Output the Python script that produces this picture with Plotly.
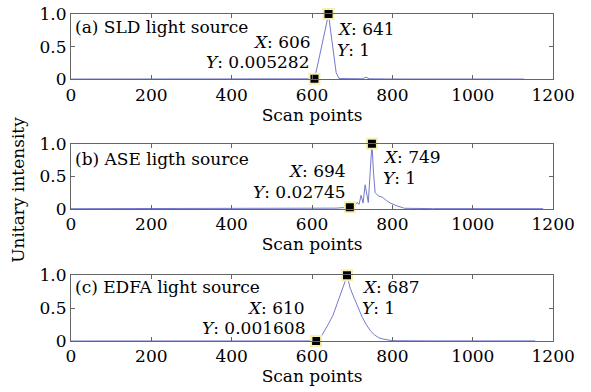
import plotly.graph_objects as go

# ---- data ----
xa = [0, 100, 200, 300, 400, 500, 580, 606, 615, 625, 635, 641, 645, 652, 660, 667, 700, 725, 734, 742, 800, 900, 1000, 1128]
ya = [0.002, 0.002, 0.002, 0.002, 0.002, 0.002, 0.003, 0.005282, 0.25, 0.55, 0.85, 1.0, 0.8, 0.45, 0.1, 0.01, 0.004, 0.006, 0.03, 0.006, 0.003, 0.002, 0.002, 0.002]

xb = [0, 100, 200, 300, 400, 500, 600, 660, 694, 705, 712, 717, 722, 727, 732, 740, 745, 749, 753, 757, 765, 775, 785, 795, 810, 830, 900, 1000, 1100, 1175]
yb = [0.004, 0.004, 0.004, 0.004, 0.005, 0.006, 0.008, 0.012, 0.02745, 0.04, 0.1, 0.07, 0.21, 0.09, 0.37, 0.1, 0.6, 1.0, 0.55, 0.25, 0.2, 0.18, 0.13, 0.09, 0.05, 0.01, 0.005, 0.004, 0.004, 0.004]

xc = [0, 100, 200, 300, 400, 500, 580, 610, 620, 628, 640, 652, 662, 670, 677, 682, 687, 690, 695, 705, 715, 725, 736, 746, 756, 766, 777, 800, 900, 1000, 1100, 1155]
yc = [0.001, 0.001, 0.001, 0.001, 0.001, 0.001, 0.001, 0.001608, 0.04, 0.12, 0.25, 0.39, 0.55, 0.70, 0.8, 0.9, 1.0, 0.92, 0.8, 0.65, 0.5, 0.36, 0.24, 0.15, 0.09, 0.05, 0.03, 0.005, 0.002, 0.002, 0.002, 0.002]

tips_a = [(606, 0.005282), (641, 1)]
tips_b = [(694, 0.02745), (749, 1)]
tips_c = [(610, 0.001608), (687, 1)]

panel_labels = ["(a) SLD light source", "(b) ASE ligth source", "(c) EDFA light source"]
xticks = [0, 200, 400, 600, 800, 1000, 1200]
yticks = [0, 0.5, 1]
yticklabels = ["0", "0.5", "1.0"]

FONT = "DejaVu Serif"
FS = 17
LINE = "#7478cc"
AXC = "#666666"

fig = go.Figure()

series = [(xa, ya, tips_a), (xb, yb, tips_b), (xc, yc, tips_c)]
domains = [[0.798, 0.964], [0.467, 0.633], [0.130, 0.298]]

for i, (x, y, tips) in enumerate(series):
    sfx = "" if i == 0 else str(i + 1)
    fig.add_trace(go.Scatter(x=x, y=y, mode="lines", line=dict(color=LINE, width=1),
                             xaxis="x" + sfx, yaxis="y" + sfx, showlegend=False))
    fig.add_trace(go.Scatter(x=[t[0] for t in tips], y=[t[1] for t in tips], mode="markers",
                             marker=dict(symbol="square", size=10, color="black",
                                         line=dict(color="#f6efb0", width=2)),
                             cliponaxis=False,
                             xaxis="x" + sfx, yaxis="y" + sfx, showlegend=False))
    common = dict(showline=True, linecolor=AXC, linewidth=1, mirror="ticks",
                  ticks="inside", ticklen=4, tickcolor=AXC, showgrid=False, zeroline=False,
                  automargin=False,
                  tickfont=dict(family=FONT, size=FS, color="black"))
    fig.layout["xaxis" + sfx] = dict(domain=[0.120, 0.936], range=[0, 1200], tickvals=xticks,
                                     anchor="y" + sfx,
                                     title=dict(text="Scan points", standoff=2,
                                                font=dict(family=FONT, size=FS, color="black")),
                                     **common)
    fig.layout["yaxis" + sfx] = dict(domain=domains[i], range=[0, 1], tickvals=yticks,
                                     ticktext=yticklabels, anchor="x" + sfx, **common)

def ann(text, x, y, xanchor, xr, yr):
    fig.add_annotation(text=text, x=x, y=y, xref=xr, yref=yr, xanchor=xanchor, yanchor="middle",
                       showarrow=False, font=dict(family=FONT, size=FS, color="black"))

refs = [("x", "y"), ("x2", "y2"), ("x3", "y3")]
label_y = [0.8, 0.77, 0.82]
for i, lab in enumerate(panel_labels):
    ann(lab, 4, label_y[i], "left", *refs[i])

tip_texts = [
    [("<i>X</i>: 606", 603, 0.57, "right"), ("<i>Y</i>: 0.005282", 598, 0.26, "right"),
     ("<i>X</i>: 641", 657, 0.77, "left"), ("<i>Y</i>: 1", 657, 0.45, "left")],
    [("<i>X</i>: 694", 690, 0.585, "right"), ("<i>Y</i>: 0.02745", 690, 0.26, "right"),
     ("<i>X</i>: 749", 772, 0.80, "left"), ("<i>Y</i>: 1", 772, 0.477, "left")],
    [("<i>X</i>: 610", 588, 0.5, "right"), ("<i>Y</i>: 0.001608", 588, 0.197, "right"),
     ("<i>X</i>: 687", 720, 0.82, "left"), ("<i>Y</i>: 1", 720, 0.5, "left")],
]
for i, items in enumerate(tip_texts):
    for t, x, y, xa_ in items:
        ann(t, x, y, xa_, *refs[i])

fig.add_annotation(text="Unitary intensity", x=0.03, y=0.515, xref="paper", yref="paper",
                   textangle=-90, showarrow=False, xanchor="center", yanchor="middle",
                   font=dict(family=FONT, size=FS, color="black"))

fig.update_layout(width=591, height=392, margin=dict(l=0, r=0, t=0, b=0),
                  paper_bgcolor="white", plot_bgcolor="white")

fig.write_html("out.html")
